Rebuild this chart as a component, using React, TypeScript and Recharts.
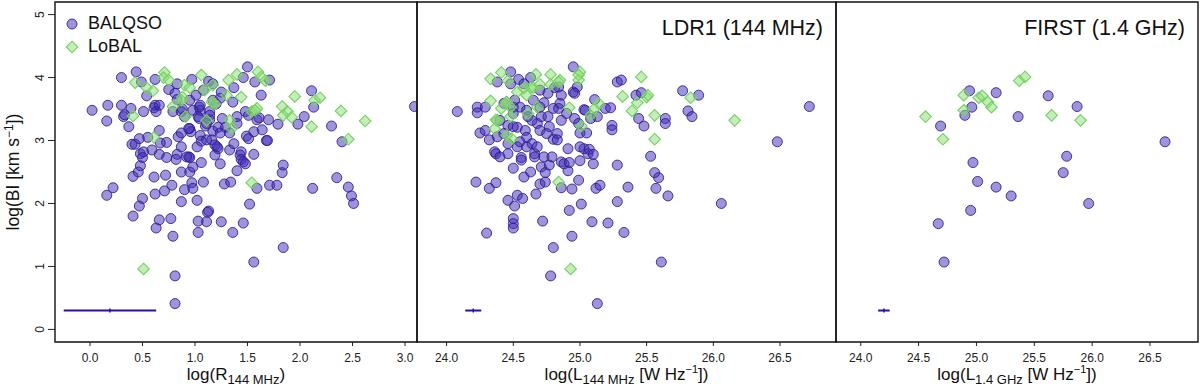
import React from "react";
import {
  ScatterChart, Scatter, XAxis, YAxis, ReferenceArea, ReferenceLine, Legend,
} from "recharts";

// log(R_144MHz) vs log(BI)
const balqsoR: [number, number][] = [
  [0.02, 3.48], [0.16, 3.31], [0.17, 3.56], [0.16, 2.13], [0.22, 2.25], [0.30, 4.00], [0.30, 3.56], [0.32, 3.38],
  [0.33, 3.41], [0.37, 3.22], [0.39, 3.51], [0.40, 2.94], [0.43, 2.94], [0.44, 4.09], [0.49, 3.93], [0.51, 3.46],
  [0.54, 3.71], [0.41, 2.43], [0.46, 2.50], [0.48, 2.60], [0.48, 2.79], [0.50, 2.73], [0.51, 2.82], [0.47, 3.03],
  [0.55, 3.05], [0.59, 2.85], [0.61, 2.42], [0.62, 2.15], [0.47, 1.96], [0.50, 2.08], [0.41, 1.80], [0.63, 1.61],
  [0.66, 1.74], [0.62, 3.97], [0.62, 3.56], [0.61, 3.52], [0.63, 3.46], [0.66, 3.16], [0.67, 2.96], [0.66, 2.78],
  [0.71, 2.20], [0.72, 2.45], [0.73, 2.73], [0.73, 2.97], [0.66, 3.56], [0.75, 3.81], [0.79, 3.46], [0.78, 2.29],
  [0.77, 1.76], [0.79, 1.48], [0.81, 3.75], [0.83, 3.65], [0.83, 2.78], [0.82, 2.70], [0.84, 3.06], [0.83, 3.90],
  [0.87, 3.46], [0.87, 3.12], [0.88, 3.50], [0.87, 2.03], [0.81, 0.85], [0.81, 0.41], [0.87, 2.50], [0.87, 2.90],
  [0.90, 2.22], [0.94, 2.74], [0.95, 2.50], [0.95, 2.73], [0.97, 3.97], [0.96, 3.14], [0.98, 2.58], [0.97, 2.33],
  [0.98, 2.24], [0.95, 3.64], [0.95, 3.19], [0.90, 3.38], [1.01, 3.72], [1.02, 2.90], [1.02, 2.05], [1.03, 1.72],
  [1.03, 1.54], [1.05, 3.48], [1.04, 3.53], [1.04, 3.35], [1.05, 3.08], [1.06, 2.65], [1.06, 2.99], [1.08, 2.34],
  [1.10, 3.23], [1.11, 1.71], [1.13, 1.88], [1.12, 1.86], [1.13, 3.94], [1.14, 3.46], [1.14, 3.33], [1.16, 3.01],
  [1.19, 2.77], [1.17, 3.15], [1.19, 2.93], [1.20, 3.58], [1.22, 3.21], [1.22, 2.87], [1.24, 3.67], [1.24, 3.12],
  [1.24, 2.63], [1.25, 1.71], [1.28, 2.31], [1.25, 3.77], [1.26, 3.35], [1.33, 2.85], [1.34, 2.34], [1.36, 1.54],
  [1.36, 3.61], [1.37, 3.84], [1.40, 3.38], [1.40, 2.52], [1.40, 3.27], [1.43, 2.77], [1.44, 2.82], [1.44, 2.70],
  [1.46, 2.66], [1.48, 2.63], [1.46, 1.69], [1.46, 4.00], [1.48, 3.46], [1.50, 4.17], [1.49, 3.07], [1.51, 3.03],
  [1.52, 1.99], [1.51, 3.40], [1.56, 3.14], [1.56, 2.78], [1.56, 1.07], [1.57, 3.93], [1.59, 3.33], [1.59, 2.24],
  [1.61, 3.36], [1.63, 3.72], [1.64, 3.17], [1.68, 3.00], [1.69, 3.00], [1.70, 3.33], [1.71, 2.29], [1.71, 3.96],
  [1.78, 2.29], [1.79, 3.26], [1.83, 2.49], [1.84, 2.61], [1.84, 1.30], [1.98, 3.26], [2.04, 3.38], [2.11, 3.79],
  [2.12, 2.24], [2.13, 3.53], [2.30, 3.23], [2.35, 2.41], [2.40, 2.98], [2.46, 2.26], [2.49, 2.12], [2.51, 2.00],
  [3.09, 3.54], [1.05, 3.56], [1.14, 3.40], [1.17, 3.64], [1.03, 3.38], [1.11, 3.01], [0.94, 3.19], [1.21, 2.90],
  [0.98, 3.48], [1.08, 3.80], [1.17, 3.90], [1.11, 3.27], [1.29, 3.21], [1.33, 3.12], [0.92, 2.74], [1.37, 2.95],
];
const lobalR: [number, number][] = [
  [0.71, 4.08], [0.70, 4.00], [0.75, 3.96], [0.43, 3.92], [0.54, 3.84], [0.60, 3.79], [1.06, 4.04], [1.17, 3.88],
  [0.90, 3.88], [0.95, 3.84], [0.88, 3.69], [0.87, 3.64], [0.79, 3.54], [0.91, 3.38], [0.41, 3.39], [0.61, 3.05],
  [1.09, 3.80], [1.11, 3.32], [1.16, 3.61], [1.19, 3.58], [1.32, 3.96], [1.40, 4.05], [1.30, 3.72], [1.33, 3.32],
  [1.35, 3.19], [1.44, 3.69], [1.54, 3.46], [1.59, 3.51], [1.57, 3.48], [1.60, 4.09], [1.63, 4.01], [1.67, 3.95],
  [1.54, 2.33], [0.51, 0.96], [1.83, 3.54], [1.84, 3.40], [1.88, 3.46], [1.92, 3.37], [1.95, 3.70], [2.11, 3.22],
  [2.14, 3.64], [2.19, 3.68], [2.39, 3.47], [2.46, 3.02], [2.62, 3.31],
];

// log(L_144MHz) vs log(BI)
const balqsoLdr: [number, number][] = [
  [24.08, 3.46], [24.22, 2.34], [24.23, 3.53], [24.23, 3.44], [24.25, 3.12], [24.29, 3.53], [24.29, 3.16], [24.30, 1.53],
  [24.32, 2.24], [24.32, 3.01], [24.36, 2.82], [24.37, 2.79], [24.37, 2.33], [24.38, 3.93], [24.38, 3.06], [24.43, 3.59],
  [24.46, 3.24], [24.46, 2.79], [24.46, 2.05], [24.46, 2.95], [24.48, 4.09], [24.50, 2.56], [24.50, 1.76], [24.50, 1.68],
  [24.50, 1.61], [24.51, 1.96], [24.50, 3.53], [24.50, 3.43], [24.53, 2.90], [24.53, 2.13], [24.53, 3.21], [24.54, 3.97],
  [24.55, 2.98], [24.56, 2.73], [24.57, 2.08], [24.58, 2.42], [24.59, 3.16], [24.60, 3.05], [24.61, 3.38], [24.63, 2.50],
  [24.63, 4.00], [24.64, 2.95], [24.65, 3.64], [24.66, 2.79], [24.66, 2.74], [24.67, 2.15], [24.68, 3.27], [24.70, 2.31],
  [24.70, 3.16], [24.71, 3.38], [24.71, 2.58], [24.72, 1.72], [24.73, 3.60], [24.73, 2.74], [24.74, 2.49], [24.74, 2.34],
  [24.76, 3.38], [24.77, 3.22], [24.77, 2.61], [24.78, 0.85], [24.79, 2.74], [24.80, 1.30], [24.80, 3.02], [24.80, 3.51],
  [24.81, 3.84], [24.83, 3.11], [24.83, 3.01], [24.84, 3.51], [24.85, 3.59], [24.86, 2.66], [24.86, 3.72], [24.86, 3.32],
  [24.86, 2.25], [24.88, 2.63], [24.90, 3.43], [24.91, 2.87], [24.91, 2.52], [24.92, 1.89], [24.92, 2.65], [24.94, 2.23],
  [24.94, 1.48], [24.95, 4.17], [24.95, 3.77], [24.96, 3.35], [24.98, 3.85], [24.99, 3.27], [24.99, 2.37], [25.00, 2.68],
  [25.00, 3.12], [25.01, 1.99], [25.03, 2.87], [25.03, 3.49], [25.05, 3.12], [25.06, 2.79], [25.07, 2.86], [25.08, 3.35],
  [25.09, 1.71], [25.10, 2.63], [25.10, 2.78], [25.11, 3.65], [25.12, 2.24], [25.13, 0.41], [25.13, 3.38], [25.15, 2.29],
  [25.19, 3.51], [25.21, 1.69], [25.23, 3.52], [25.24, 3.24], [25.24, 3.17], [25.28, 3.93], [25.28, 2.03], [25.28, 2.61],
  [25.31, 3.96], [25.33, 1.54], [25.36, 2.26], [25.42, 3.72], [25.44, 3.35], [25.46, 3.76], [25.48, 3.23], [25.53, 2.75],
  [25.56, 2.49], [25.59, 2.41], [25.57, 2.24], [25.61, 1.07], [25.64, 3.35], [25.64, 3.27], [25.66, 2.12], [25.77, 3.79],
  [25.81, 3.47], [25.84, 3.38], [25.89, 3.72], [26.06, 2.00], [26.48, 2.98], [26.72, 3.54],
  [24.48, 3.90], [24.58, 3.90], [24.70, 3.80], [24.84, 3.85], [24.96, 3.75], [24.51, 3.64], [24.55, 3.53], [24.60, 3.48],
  [24.64, 3.32], [24.50, 3.22], [24.43, 3.11], [24.40, 3.32], [24.70, 3.53], [24.75, 3.11], [24.60, 2.90], [24.68, 2.90],
  [24.56, 2.69], [24.40, 2.74], [24.76, 3.75], [25.04, 3.48], [25.00, 2.90],
];
const lobalLdr: [number, number][] = [
  [24.33, 3.98], [24.41, 4.08], [24.46, 3.95], [24.33, 3.63], [24.38, 3.32], [24.36, 3.19], [24.41, 3.51], [24.45, 3.61],
  [24.48, 3.53], [24.48, 3.38], [24.49, 3.03], [24.45, 3.08], [24.53, 3.77], [24.58, 3.83], [24.60, 3.72], [24.61, 3.43],
  [24.63, 3.84], [24.65, 3.84], [24.67, 4.05], [24.68, 3.53], [24.70, 3.89], [24.78, 4.05], [24.78, 3.89], [24.85, 3.96],
  [24.84, 2.34], [24.92, 3.52], [24.93, 0.96], [25.00, 4.09], [24.99, 3.96], [25.01, 3.23], [25.08, 3.40], [25.11, 3.51],
  [25.14, 3.59], [25.32, 3.70], [25.39, 3.47], [25.46, 4.01], [25.43, 3.60], [25.50, 3.69], [25.51, 3.72], [25.56, 3.40],
  [25.56, 3.02], [25.83, 3.68], [26.16, 3.32], [24.99, 4.04], [24.84, 3.93], [24.37, 3.33], [24.45, 3.61],
];

// log(L_1.4GHz) vs log(BI)
const balqsoFirst: [number, number][] = [
  [24.94, 3.79], [25.17, 3.76], [25.62, 3.71], [24.96, 3.53], [24.90, 3.40], [25.87, 3.54], [25.36, 3.38], [24.69, 3.23],
  [26.63, 2.98], [25.78, 2.75], [24.97, 2.65], [25.75, 2.49], [25.01, 2.35], [25.17, 2.26], [25.30, 2.12], [25.97, 2.00],
  [24.95, 1.89], [24.67, 1.68], [24.72, 1.07],
];
const lobalFirst: [number, number][] = [
  [24.56, 3.38], [24.71, 3.02], [24.89, 3.72], [24.89, 3.48], [25.02, 3.68], [25.05, 3.71], [25.10, 3.61], [25.13, 3.53],
  [25.37, 3.95], [25.42, 4.01], [25.65, 3.40], [25.90, 3.32],
];

// typical uncertainty bars at log(BI) = 0.3
const errY = 0.3;
const errCentres = [0.19, 24.2, 24.2];
const errLows = [-0.25, 24.14, 24.15];
const errHighs = [0.63, 24.26, 24.25];

const seriesNames = ["BALQSO", "LoBAL"];
const panelTitles = ["", "LDR1 (144 MHz)", "FIRST (1.4 GHz)"];
const yTicks = [0, 1, 2, 3, 4, 5];
const xTicksR = [0, 0.5, 1, 1.5, 2, 2.5, 3];
const xTicksL = [24, 24.5, 25, 25.5, 26, 26.5];

const FONT = "'Liberation Sans', Arial, sans-serif";
const Y_DOMAIN: [number, number] = [-0.2, 5.2];
const PURPLE_STROKE = "#2c1a98";
const ERR_COLOR = "#2412a6";

const toPts = (arr: [number, number][]) => arr.map(([x, y]) => ({ x, y }));

const Circle = (p: any) => (
  <circle cx={p.cx} cy={p.cy} r={5} fill="rgba(62,42,178,0.5)" stroke={PURPLE_STROKE} strokeWidth={1} strokeOpacity={0.85} />
);

const Diamond = (p: any) => {
  const s = 5.8;
  return (
    <polygon
      points={`${p.cx},${p.cy - s} ${p.cx + s},${p.cy} ${p.cx},${p.cy + s} ${p.cx - s},${p.cy}`}
      fill="rgba(140,218,118,0.5)" stroke="#74d262" strokeWidth={1.1}
    />
  );
};

const ErrMark = (p: any) => (
  <line x1={p.cx} y1={p.cy - 2} x2={p.cx} y2={p.cy + 2} stroke={ERR_COLOR} strokeWidth={1.5} />
);

const YTick = (p: any) => (
  <text x={p.x} y={p.y} transform={`rotate(-90 ${p.x} ${p.y})`} textAnchor="middle"
        fontSize={12} fill="#222" fontFamily={FONT}>
    {p.payload.value}
  </text>
);

const XTitle = ({ viewBox, sub, unit }: any) => {
  const cx = viewBox.x + viewBox.width / 2;
  const y = viewBox.y + 38;
  return (
    <text x={cx} y={y} textAnchor="middle" fontSize={17} fill="#111" fontFamily={FONT}>
      {unit ? "log(L" : "log(R"}
      <tspan fontSize={13} dy={4}>{sub}</tspan>
      {unit ? (
        <>
          <tspan dy={-4}> [W Hz</tspan>
          <tspan fontSize={11} dy={-7}>−1</tspan>
          <tspan dy={7}>])</tspan>
        </>
      ) : (
        <tspan dy={-4}>)</tspan>
      )}
    </text>
  );
};

const YTitle = ({ viewBox }: any) => {
  const x = 19;
  const y = viewBox.y + viewBox.height / 2;
  return (
    <text x={x} y={y} transform={`rotate(-90 ${x} ${y})`} textAnchor="middle" fontSize={17.5} fill="#111" fontFamily={FONT}>
      log(BI [km s<tspan fontSize={12} dy={-6}>−1</tspan><tspan dy={6}>])</tspan>
    </text>
  );
};

const LegendBox = () => (
  <div style={{ fontFamily: FONT, fontSize: 18, color: "#111", lineHeight: "23px" }}>
    {seriesNames.map((name, i) => (
      <div key={name} style={{ display: "flex", alignItems: "center", height: 23 }}>
        <svg width={20} height={20} style={{ marginRight: 6 }}>
          {i === 0 ? <Circle cx={10} cy={10} /> : <Diamond cx={10} cy={10} />}
        </svg>
        <span>{name}</span>
      </div>
    ))}
  </div>
);

interface PanelProps {
  idx: number;
  left: number;
  right: number;
  xDomain: [number, number];
  xTicks: number[];
  circles: [number, number][];
  diamonds: [number, number][];
  sub: string;
  unit: boolean;
}

function Panel({ idx, left, right, xDomain, xTicks, circles, diamonds, sub, unit }: PanelProps) {
  const first = idx === 0;
  return (
    <div style={{ position: "absolute", left: 0, top: 0 }}>
      <ScatterChart width={1200} height={389}
                    margin={{ top: 2, right: 1200 - right, bottom: 0, left: first ? 0 : left }}>
        <XAxis type="number" dataKey="x" domain={xDomain} ticks={xTicks} allowDataOverflow
               height={47} axisLine={false} tickSize={4} tickMargin={7}
               tickLine={{ stroke: "#222" }} tickFormatter={(v: number) => v.toFixed(1)}
               tick={{ fontSize: 12, fill: "#222", fontFamily: FONT }}
               label={{ content: (lp: any) => <XTitle {...lp} sub={sub} unit={unit} /> }} />
        <YAxis type="number" dataKey="y" domain={Y_DOMAIN} ticks={yTicks} allowDataOverflow
               hide={!first} width={55} axisLine={false} tickSize={7} tickMargin={4}
               tickLine={{ stroke: "#222" }} tick={<YTick />}
               label={first ? { content: (lp: any) => <YTitle {...lp} /> } : undefined} />
        <ReferenceArea x1={xDomain[0]} x2={xDomain[1]} y1={Y_DOMAIN[0]} y2={Y_DOMAIN[1]}
                       fill="none" stroke="#111" strokeWidth={1.4} />
        <ReferenceLine segment={[{ x: errLows[idx], y: errY }, { x: errHighs[idx], y: errY }]}
                       stroke={ERR_COLOR} strokeWidth={2} />
        <Scatter name={seriesNames[0]} data={toPts(circles)} shape={Circle} isAnimationActive={false} />
        <Scatter name={seriesNames[1]} data={toPts(diamonds)} shape={Diamond} isAnimationActive={false} />
        <Scatter data={[{ x: errCentres[idx], y: errY }]} shape={ErrMark} isAnimationActive={false} />
        {first && (
          <Legend layout="vertical" align="center" verticalAlign="middle"
                  wrapperStyle={{ top: 12, left: 62, width: 160, height: 50 }}
                  content={() => <LegendBox />} />
        )}
      </ScatterChart>
      {panelTitles[idx] && (
        <div style={{
          position: "absolute", top: 16, left: right - 313, width: 300, textAlign: "right",
          fontFamily: FONT, fontSize: 21.5, color: "#111", whiteSpace: "nowrap",
        }}>
          {panelTitles[idx]}
        </div>
      )}
    </div>
  );
}

export default function App() {
  return (
    <div style={{ position: "absolute", left: 0, top: 0, width: 1200, height: 389, background: "#fff", overflow: "hidden" }}>
      <Panel idx={0} left={55} right={417} xDomain={[-0.333, 3.114]} xTicks={xTicksR}
             circles={balqsoR} diamonds={lobalR} sub="144 MHz" unit={false} />
      <Panel idx={1} left={417} right={836} xDomain={[23.778, 26.92]} xTicks={xTicksL}
             circles={balqsoLdr} diamonds={lobalLdr} sub="144 MHz" unit />
      <Panel idx={2} left={836} right={1198} xDomain={[23.786, 26.915]} xTicks={xTicksL}
             circles={balqsoFirst} diamonds={lobalFirst} sub="1.4 GHz" unit />
    </div>
  );
}
